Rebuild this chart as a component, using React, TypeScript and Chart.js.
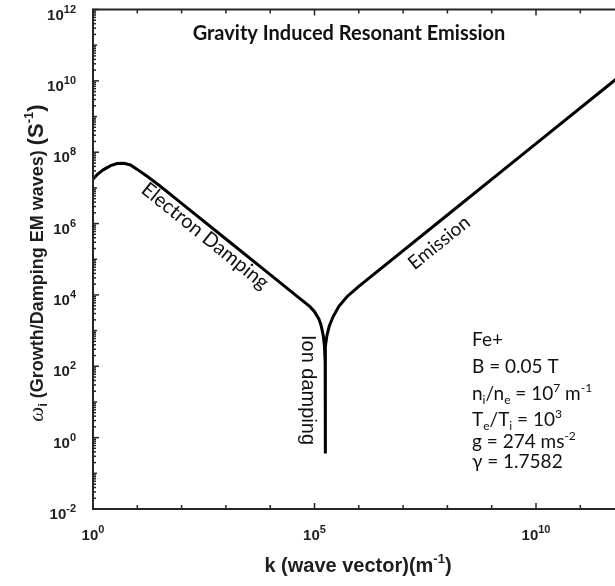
import React, { useEffect, useRef } from "react";
import { Chart, registerables } from "chart.js";

Chart.register(...registerables);

// wave vector k (m^-1)
const K_VALUES = [
  1, 1.26, 1.7, 2.5, 3.5, 5, 7, 10, 16, 32, 100, 1e3, 1e4, 4e4, 8e4, 1e5,
  1.26e5, 1.41e5, 1.58e5, 1.68e5, 1.74e5, 1.74e5, 1.74e5, 1.8e5, 1.9e5,
  2.14e5, 2.63e5, 3.55e5, 5.4e5, 1e6, 1e8, 1e10, 1e12,
];
// growth / damping rate omega_i (s^-1)
const OMEGA_VALUES = [
  1.74e7, 2.4e7, 3.2e7, 4.2e7, 4.8e7, 4.9e7, 4.4e7, 3.3e7, 2.2e7, 1.15e7,
  3.7e6, 3.7e5, 3.7e4, 9.3e3, 4.6e3, 3.4e3, 2.1e3, 1.4e3, 720, 355, 126,
  0.36, 126, 355, 710, 1.3e3, 2.45e3, 4.8e3, 8.9e3, 1.74e4, 1.74e6, 1.74e8,
  1.74e10,
];
const X_LABEL_EXPONENTS = [0, 5, 10];
const Y_LABEL_EXPONENTS = [-2, 0, 2, 4, 6, 8, 10, 12];
const TITLE = "Gravity Induced Resonant Emission";
const PARAM_LINES = [
  [["Fe+", "n"]],
  [["B = 0.05 T", "n"]],
  [["n", "n"], ["i", "sub"], ["/n", "n"], ["e", "sub"], [" = 10", "n"], ["7", "sup"], [" m", "n"], ["-1", "sup"]],
  [["T", "n"], ["e", "sub"], ["/T", "n"], ["i", "sub"], [" = 10", "n"], ["3", "sup"]],
  [["g = 274 ms", "n"], ["-2", "sup"]],
  [["γ = 1.7582", "n"]],
];
const ANNOTATIONS = {
  electron: { text: "Electron Damping", k: 340, w: 4.5e5 },
  emission: { text: "Emission", k: 6.5e7, w: 2.9e5 },
  ion: { text: "Ion damping", k: 6.9e4, w: 21.6 },
};

type Run = { t: string; f: string; dy?: number };

function runsWidth(ctx: CanvasRenderingContext2D, runs: Run[]) {
  let w = 0;
  for (const r of runs) {
    ctx.font = r.f;
    w += ctx.measureText(r.t).width;
  }
  return w;
}
function drawRuns(ctx: CanvasRenderingContext2D, runs: Run[], x: number, y: number) {
  let cx = x;
  for (const r of runs) {
    ctx.font = r.f;
    ctx.fillText(r.t, cx, y + (r.dy || 0));
    cx += ctx.measureText(r.t).width;
  }
}

const SANS = '"Liberation Sans", Arial, sans-serif';
const CAL = 'Lato, "Open Sans", sans-serif';

const decor = {
  id: "decor",
  afterDraw(chart: any) {
    const ctx: CanvasRenderingContext2D = chart.ctx;
    const { left, right, top, bottom } = chart.chartArea;
    const xs = chart.scales.x;
    const ys = chart.scales.y;
    ctx.save();
    // frame
    ctx.strokeStyle = "#262626";
    ctx.lineWidth = 2;
    ctx.strokeRect(left, top, right - left, bottom - top);
    // x ticks
    ctx.lineWidth = 1.5;
    for (let e = 0; e <= 12; e++) {
      const px = xs.getPixelForValue(Math.pow(10, e));
      const len = e % 5 === 0 ? 6 : 4;
      ctx.beginPath();
      ctx.moveTo(px, bottom);
      ctx.lineTo(px, bottom - len);
      ctx.moveTo(px, top);
      ctx.lineTo(px, top + len);
      ctx.stroke();
    }
    // y ticks
    for (let e = -2; e < 12; e++) {
      for (let m = 1; m <= 9; m++) {
        const py = ys.getPixelForValue(m * Math.pow(10, e));
        const len = m === 1 ? (e % 2 === 0 ? 6 : 4) : 3;
        ctx.beginPath();
        ctx.moveTo(left, py);
        ctx.lineTo(left + len, py);
        ctx.stroke();
      }
    }
    {
      const py = ys.getPixelForValue(1e12);
      ctx.beginPath();
      ctx.moveTo(left, py);
      ctx.lineTo(left + 6, py);
      ctx.stroke();
    }
    // tick labels
    ctx.fillStyle = "#1e1e1e";
    ctx.textAlign = "left";
    ctx.textBaseline = "alphabetic";
    const base = `bold 15px ${SANS}`;
    const sup = `bold 11px ${SANS}`;
    for (const e of X_LABEL_EXPONENTS) {
      const px = xs.getPixelForValue(Math.pow(10, e));
      const runs: Run[] = [{ t: "10", f: base }, { t: String(e), f: sup, dy: -7 }];
      const w = runsWidth(ctx, runs);
      drawRuns(ctx, runs, px - w / 2, bottom + 31);
    }
    for (const e of Y_LABEL_EXPONENTS) {
      const py = ys.getPixelForValue(Math.pow(10, e));
      const runs: Run[] = [{ t: "10", f: base }, { t: String(e), f: sup, dy: -7 }];
      const w = runsWidth(ctx, runs);
      drawRuns(ctx, runs, left - 17 - w, py + 10);
    }
    // x title
    {
      const runs: Run[] = [
        { t: "k (wave vector)(m", f: `bold 20px ${SANS}` },
        { t: "-1", f: `bold 13px ${SANS}`, dy: -9 },
        { t: ")", f: `bold 20px ${SANS}` },
      ];
      const w = runsWidth(ctx, runs);
      drawRuns(ctx, runs, 358 - w / 2, 572);
    }
    // y title
    {
      ctx.save();
      ctx.translate(43, 263);
      ctx.rotate(-Math.PI / 2);
      const runs: Run[] = [
        { t: "ω", f: `italic 21px "Liberation Serif", serif` },
        { t: "i", f: `bold 13px ${SANS}`, dy: 4 },
        { t: " (Growth/Damping EM waves) ", f: `bold 18px ${SANS}` },
        { t: "(S", f: `bold 22px ${SANS}` },
        { t: "-1", f: `bold 13px ${SANS}`, dy: -10 },
        { t: ")", f: `bold 22px ${SANS}` },
      ];
      const w = runsWidth(ctx, runs);
      drawRuns(ctx, runs, -w / 2, 0);
      ctx.restore();
    }
    // title
    ctx.fillStyle = "#111";
    ctx.font = `bold 20px ${CAL}`;
    ctx.textAlign = "center";
    ctx.fillText(TITLE, 349, 40);
    // annotations
    const slopeAngle = Math.atan2(
      ys.getPixelForValue(0.1) - ys.getPixelForValue(1),
      xs.getPixelForValue(10) - xs.getPixelForValue(1)
    );
    const drawAnn = (a: any, font: string, angle: number) => {
      ctx.save();
      ctx.translate(xs.getPixelForValue(a.k), ys.getPixelForValue(a.w));
      ctx.rotate(angle);
      ctx.font = font;
      ctx.textAlign = "center";
      ctx.textBaseline = "middle";
      ctx.fillText(a.text, 0, 0);
      ctx.restore();
    };
    drawAnn(ANNOTATIONS.electron, `20px ${CAL}`, slopeAngle);
    drawAnn(ANNOTATIONS.emission, `19px ${CAL}`, -slopeAngle);
    drawAnn(ANNOTATIONS.ion, `20px ${SANS}`, Math.PI / 2);
    // parameters
    ctx.textAlign = "left";
    ctx.textBaseline = "alphabetic";
    const baselines = [346, 373, 400, 426, 448, 468];
    PARAM_LINES.forEach((line, i) => {
      const runs: Run[] = line.map(([t, kind]) => {
        if (kind === "sub") return { t, f: `12px ${CAL}`, dy: 4 };
        if (kind === "sup") return { t, f: `12px ${CAL}`, dy: -8 };
        return { t, f: `19px ${CAL}` };
      });
      drawRuns(ctx, runs, 472, baselines[i]);
    });
    ctx.restore();
  },
};

export default function App() {
  const ref = useRef<HTMLCanvasElement>(null);
  useEffect(() => {
    if (!ref.current) return;
    const chart = new Chart(ref.current, {
      type: "line",
      data: {
        datasets: [
          {
            data: K_VALUES.map((k, i) => ({ x: k, y: OMEGA_VALUES[i] })),
            borderColor: "#000",
            borderWidth: 3,
            pointRadius: 0,
            tension: 0,
            fill: false,
          },
        ],
      },
      options: {
        animation: false,
        responsive: false,
        devicePixelRatio: 1,
        layout: { padding: { left: 93, top: 9.5, right: 640 - 624.6, bottom: 77 } },
        plugins: { legend: { display: false }, tooltip: { enabled: false } },
        scales: {
          x: {
            type: "logarithmic",
            min: 1,
            max: 1e12,
            grid: { display: false },
            ticks: { display: false },
            border: { display: false },
            afterFit: (s: any) => {
              s.height = 0;
            },
          },
          y: {
            type: "logarithmic",
            min: 1e-2,
            max: 1e12,
            grid: { display: false },
            ticks: { display: false },
            border: { display: false },
            afterFit: (s: any) => {
              s.width = 0;
            },
          },
        },
      },
      plugins: [decor],
    } as any);
    return () => chart.destroy();
  }, []);
  return (
    <div
      style={{
        position: "fixed",
        left: 0,
        top: 0,
        width: 615,
        height: 586,
        overflow: "hidden",
        background: "#fff",
      }}
    >
      <canvas ref={ref} width={640} height={586} style={{ display: "block" }} />
    </div>
  );
}
